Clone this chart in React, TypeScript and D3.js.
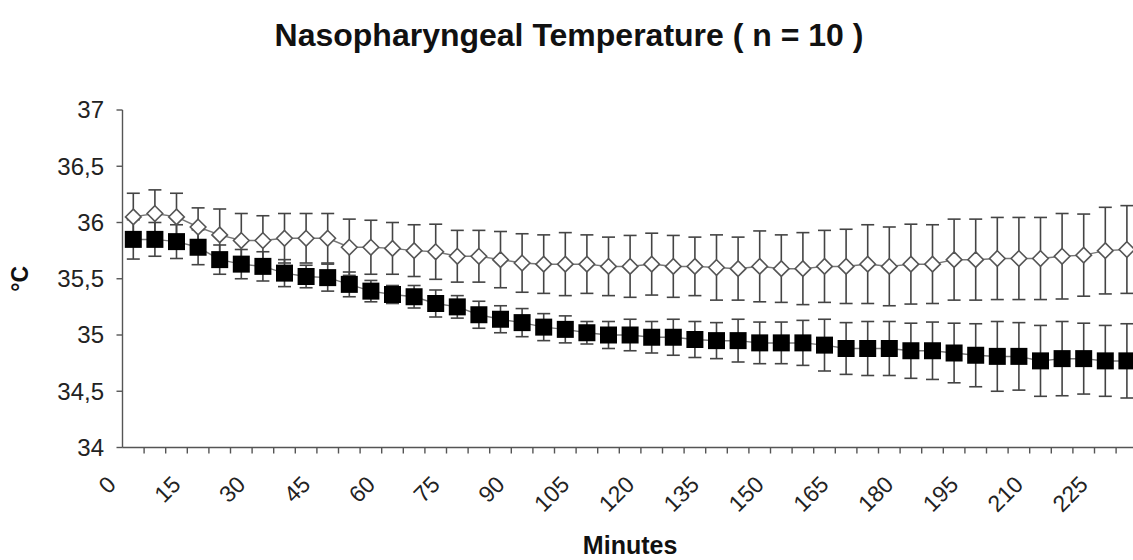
import React from 'react';
import * as d3 from 'd3';

// minutes after start (category axis)
const minutes = [
  0, 5, 10, 15, 20, 25, 30, 35, 40, 45, 50, 55, 60, 65, 70, 75, 80, 85, 90, 95,
  100, 105, 110, 115, 120, 125, 130, 135, 140, 145, 150, 155, 160, 165, 170, 175,
  180, 185, 190, 195, 200, 205, 210, 215, 220, 225, 230,
];

// open diamonds
const diamondMean = [
  36.05, 36.08, 36.05, 35.96, 35.89, 35.84, 35.84, 35.86, 35.86, 35.86, 35.78,
  35.78, 35.77, 35.75, 35.74, 35.7, 35.7, 35.67, 35.64, 35.63, 35.63, 35.63,
  35.61, 35.61, 35.63, 35.61, 35.61, 35.6, 35.59, 35.61, 35.59, 35.59, 35.61,
  35.61, 35.63, 35.61, 35.63, 35.63, 35.67, 35.67, 35.68, 35.68, 35.68, 35.7,
  35.71, 35.75, 35.76,
];
const diamondSd = [
  0.21, 0.21, 0.21, 0.17, 0.23, 0.24, 0.22, 0.22, 0.22, 0.22, 0.25, 0.24, 0.23,
  0.23, 0.245, 0.23, 0.23, 0.25, 0.26, 0.26, 0.28, 0.26, 0.26, 0.275, 0.275,
  0.275, 0.26, 0.29, 0.28, 0.315, 0.3, 0.32, 0.32, 0.33, 0.35, 0.35, 0.355, 0.35,
  0.36, 0.36, 0.365, 0.365, 0.365, 0.38, 0.365, 0.385, 0.39,
];

// filled squares
const squareMean = [
  35.85, 35.85, 35.83, 35.78, 35.67, 35.63, 35.61, 35.55, 35.52, 35.51, 35.45,
  35.39, 35.36, 35.34, 35.28, 35.25, 35.18, 35.14, 35.11, 35.07, 35.05, 35.02,
  35.0, 35.0, 34.98, 34.98, 34.96, 34.95, 34.95, 34.93, 34.93, 34.93, 34.91,
  34.88, 34.88, 34.88, 34.86, 34.86, 34.84, 34.82, 34.81, 34.81, 34.77, 34.79,
  34.79, 34.77, 34.77,
];
const squareSd = [
  0.175, 0.15, 0.15, 0.155, 0.13, 0.13, 0.13, 0.12, 0.1, 0.12, 0.11, 0.095, 0.08,
  0.1, 0.12, 0.1, 0.12, 0.12, 0.125, 0.12, 0.12, 0.1, 0.12, 0.14, 0.14, 0.16,
  0.16, 0.16, 0.19, 0.185, 0.185, 0.2, 0.23, 0.23, 0.24, 0.24, 0.245, 0.255,
  0.265, 0.28, 0.31, 0.3, 0.315, 0.33, 0.315, 0.315, 0.33,
];

const yTicks = [34, 34.5, 35, 35.5, 36, 36.5, 37];
const xLabelEvery = 3;

const W = 1133, H = 560;
const left = 122.5, right = 1137.7, top = 110, bottom = 447.5;
const font = '"Liberation Sans", Arial, sans-serif';
const fmt = (v: number) => String(v).replace('.', ',');

export default function App() {
  const x = d3.scaleBand<number>().domain(minutes).range([left, right]).padding(0);
  const y = d3.scaleLinear().domain([34, 37]).range([bottom, top]);
  const cx = (m: number) => (x(m) as number) + x.bandwidth() / 2;

  const line = d3.line<number>()
    .x((_, i) => cx(minutes[i]))
    .y(d => y(d));

  const cap = 6.5;
  const bars = (mean: number[], sd: number[], key: string) =>
    mean.map((m, i) => {
      const px = cx(minutes[i]);
      const y1 = y(m + sd[i]), y2 = y(m - sd[i]);
      return (
        <g key={key + i} stroke="#444" strokeWidth={1.6}>
          <line x1={px} x2={px} y1={y1} y2={y2} />
          <line x1={px - cap} x2={px + cap} y1={y1} y2={y1} />
          <line x1={px - cap} x2={px + cap} y1={y2} y2={y2} />
        </g>
      );
    });

  const diamond = d3.symbol().type(d3.symbolDiamond2).size(155)();

  return (
    <svg width={W} height={H} style={{ position: 'absolute', left: 0, top: 0, background: '#fff' }} fontFamily={font}>
      <text x={569} y={46} textAnchor="middle" fontSize={32} fontWeight="bold" fill="#111">
        Nasopharyngeal Temperature ( n = 10 )
      </text>

      {/* y axis */}
      <line x1={left} x2={left} y1={top} y2={bottom} stroke="#555" strokeWidth={1.4} />
      {yTicks.map(t => (
        <g key={t}>
          <line x1={left - 6} x2={left} y1={y(t)} y2={y(t)} stroke="#555" strokeWidth={1.4} />
          <text x={104} y={y(t)} dy="0.35em" textAnchor="end" fontSize={24} fill="#222">{fmt(t)}</text>
        </g>
      ))}
      <text transform={`translate(28,${(top + bottom) / 2}) rotate(-90)`} textAnchor="middle" fontSize={23} fontWeight="bold" fill="#111">°C</text>

      {/* x axis */}
      <line x1={left} x2={right} y1={bottom} y2={bottom} stroke="#555" strokeWidth={1.4} />
      {minutes.map(m => (
        <line key={'t' + m} x1={(x(m) as number) + x.bandwidth()} x2={(x(m) as number) + x.bandwidth()} y1={bottom} y2={bottom + 6} stroke="#555" strokeWidth={1.4} />
      ))}
      {minutes.filter((_, i) => i % xLabelEvery === 0).map(m => (
        <text key={'l' + m} transform={`translate(${cx(m) - 16},486) rotate(-45)`} textAnchor="end" fontSize={23} fill="#222">{m}</text>
      ))}
      <text x={(left + right) / 2} y={554} textAnchor="middle" fontSize={25} fontWeight="bold" fill="#111">Minutes</text>

      {/* error bars */}
      {bars(diamondMean, diamondSd, 'db')}
      {bars(squareMean, squareSd, 'sb')}

      {/* lines */}
      <path d={line(diamondMean) || ''} fill="none" stroke="#777" strokeWidth={1.5} />
      <path d={line(squareMean) || ''} fill="none" stroke="#777" strokeWidth={1.5} />

      {/* markers */}
      {diamondMean.map((v, i) => (
        <path key={'d' + i} d={diamond || ''} transform={`translate(${cx(minutes[i])},${y(v)})`} fill="#fff" stroke="#555" strokeWidth={1.6} />
      ))}
      {squareMean.map((v, i) => (
        <rect key={'s' + i} x={cx(minutes[i]) - 8.5} y={y(v) - 8.5} width={17} height={17} fill="#000" />
      ))}
    </svg>
  );
}
